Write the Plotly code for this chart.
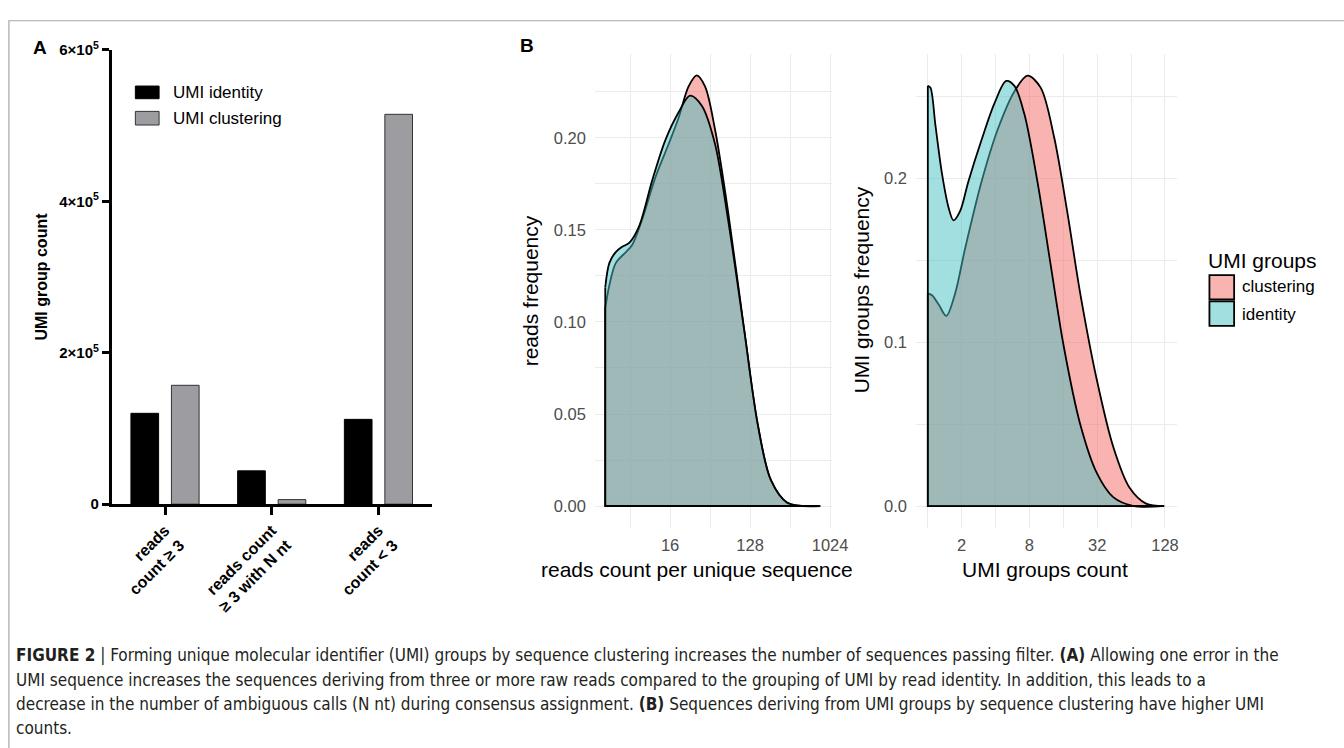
import math
import plotly.graph_objects as go

W, H = 1344, 748

# ---------------- Panel A data ----------------
bar_categories = ["reads<br>count ≥ 3", "reads count<br>≥ 3 with N nt", "reads<br>count < 3"]
umi_identity = [120000, 44000, 112000]
umi_clustering = [157000, 6000, 515000]
a_ytickvals = [0, 200000, 400000, 600000]
a_yticktext = ["0", "2×10<sup>5</sup>", "4×10<sup>5</sup>", "6×10<sup>5</sup>"]

# ---------------- Panel B (left) data: reads count per unique sequence ----------------
reads_count_clustering = [2.97, 3.3, 3.9, 5.08, 6.0, 7.78, 11.0, 15.5, 20, 25.9, 32, 39.7, 51.3, 72, 110, 156, 220, 337, 790]
reads_freq_clustering = [0.1076, 0.1198, 0.132, 0.138, 0.142, 0.156, 0.179, 0.197, 0.211, 0.228, 0.234, 0.228, 0.205, 0.1605, 0.0954, 0.0445, 0.014, 0.0017, 0.0]
reads_count_identity = [2.97, 3.3, 3.9, 4.66, 5.53, 7.15, 10.07, 14.2, 20, 26.9, 36.5, 51.3, 72, 110, 156, 220, 337, 790]
reads_freq_identity = [0.1188, 0.132, 0.138, 0.141, 0.143, 0.152, 0.177, 0.199, 0.214, 0.223, 0.2175, 0.197, 0.156, 0.0954, 0.0445, 0.014, 0.0018, 0.0]

# ---------------- Panel B (right) data: UMI groups count ----------------
umi_count_clustering = [1.0, 1.09, 1.25, 1.46, 1.75, 2.14, 3.0, 4.2, 5.88, 7.7, 10.06, 13.2, 17.3, 22.6, 31.7, 44.4, 62.1, 87, 126]
umi_freq_clustering = [0.1299, 0.1287, 0.123, 0.1161, 0.1299, 0.157, 0.198, 0.2303, 0.2531, 0.2627, 0.2554, 0.2257, 0.180, 0.1299, 0.0773, 0.0363, 0.0112, 0.0015, 0.0]
umi_count_identity = [1.0, 1.055, 1.168, 1.336, 1.528, 1.69, 1.935, 2.29, 3.0, 3.93, 4.97, 5.88, 7.2, 9.42, 12.3, 16.1, 22.6, 31.7, 44.4, 66.5, 122]
umi_freq_identity = [0.2565, 0.2554, 0.2325, 0.2029, 0.1823, 0.1744, 0.180, 0.198, 0.2234, 0.2462, 0.2595, 0.2565, 0.2394, 0.198, 0.148, 0.0979, 0.050, 0.0203, 0.0055, 0.0002, 0.0]

left_major_x = [16, 128, 1024]
left_minor_x = [5.657, 45.25, 362.0]
right_major_x = [2, 8, 32, 128]
right_minor_x = [1, 4, 16, 64]
left_major_y = [0, 0.05, 0.10, 0.15, 0.20]
left_minor_y = [0.025, 0.075, 0.125, 0.175, 0.225]
right_major_y = [0, 0.1, 0.2]
right_minor_y = [0.05, 0.15, 0.25]

group_names = ["clustering", "identity"]

# ---------------- styling ----------------
FONT = "Liberation Sans, Arial, Helvetica, sans-serif"
CAP_FONT = "DejaVu Sans Condensed, Liberation Sans Narrow, sans-serif"
PINK_FILL = "rgba(243,103,97,0.5)"
TEAL_FILL = "rgba(70,192,194,0.5)"
PINK_KEY = "#F9B3B0"
TEAL_KEY = "#A2DFE0"
GRID = "#EBEBEB"
TICKGRAY = "#4D4D4D"


def px(x):
    return x / W


def py(y):
    return 1 - y / H


fig = go.Figure()

# Panel A bars
fig.add_trace(go.Bar(x=bar_categories, y=umi_identity, name="UMI identity",
                     marker=dict(color="black", line=dict(color="black", width=1)),
                     xaxis="x", yaxis="y", showlegend=False))
fig.add_trace(go.Bar(x=bar_categories, y=umi_clustering, name="UMI clustering",
                     marker=dict(color="#9D9CA1", line=dict(color="#333333", width=1)),
                     xaxis="x", yaxis="y", showlegend=False))


def add_density(xs, ys, fill, xa, ya):
    fig.add_trace(go.Scatter(x=xs, y=ys, mode="lines",
                             line=dict(color="black", width=1.8, shape="spline", smoothing=0.9),
                             fill="tozeroy", fillcolor=fill, xaxis=xa, yaxis=ya,
                             showlegend=False, hoverinfo="skip"))
    fig.add_trace(go.Scatter(x=[xs[0], xs[0], xs[-1]], y=[ys[0], 0, 0], mode="lines",
                             line=dict(color="black", width=1.8), xaxis=xa, yaxis=ya,
                             showlegend=False, hoverinfo="skip"))


add_density(reads_count_clustering, reads_freq_clustering, PINK_FILL, "x2", "y2")
add_density(reads_count_identity, reads_freq_identity, TEAL_FILL, "x2", "y2")
add_density(umi_count_clustering, umi_freq_clustering, PINK_FILL, "x3", "y3")
add_density(umi_count_identity, umi_freq_identity, TEAL_FILL, "x3", "y3")

L2 = math.log10(2)

ydom_a = [py(506), py(40)]
ydom_b = [py(530), py(44)]

fig.update_layout(
    width=W, height=H,
    margin=dict(l=0, r=0, t=0, b=0),
    paper_bgcolor="white", plot_bgcolor="white",
    font=dict(family=FONT, color="black"),
    barmode="group", bargap=0.241, bargroupgap=0.317,
    xaxis=dict(domain=[px(113), px(437)], range=[-0.5, 2.5], anchor="y",
               showline=True, linewidth=2.5, linecolor="black",
               ticks="outside", ticklen=8, tickwidth=2.5, tickcolor="black",
               tickangle=-45, showgrid=False, zeroline=False,
               tickfont=dict(family=FONT, size=16, color="black", weight="bold")),
    yaxis=dict(domain=ydom_a, range=[0, 600000], anchor="x",
               showline=True, linewidth=2.5, linecolor="black",
               ticks="outside", ticklen=7, tickwidth=2.5, tickcolor="black",
               tickvals=a_ytickvals, ticktext=a_yticktext, showgrid=False, zeroline=False,
               tickfont=dict(family=FONT, size=15, color="black", weight="bold")),
    xaxis2=dict(domain=[px(602), px(842)], type="log", range=[1.18 * L2, 10.07 * L2], anchor="y2",
                tickvals=left_major_x, ticktext=[str(v) for v in left_major_x],
                showgrid=True, gridcolor=GRID, gridwidth=1.3, zeroline=False, showline=False,
                ticks="", ticklabelstandoff=6,
                minor=dict(tickvals=left_minor_x, showgrid=True, gridcolor=GRID, gridwidth=0.7, ticks=""),
                tickfont=dict(family=FONT, size=16.5, color=TICKGRAY)),
    yaxis2=dict(domain=ydom_b, range=[-0.0117, 0.2457], anchor="x2",
                tickvals=left_major_y, ticktext=["0.00", "0.05", "0.10", "0.15", "0.20"],
                showgrid=True, gridcolor=GRID, gridwidth=1.3, zeroline=False, showline=False,
                ticks="", ticklabelstandoff=8,
                minor=dict(tickvals=left_minor_y, showgrid=True, gridcolor=GRID, gridwidth=0.7, ticks=""),
                tickfont=dict(family=FONT, size=16.5, color=TICKGRAY)),
    xaxis3=dict(domain=[px(927), px(1191)], type="log", range=[-0.35 * L2, 7.35 * L2], anchor="y3",
                tickvals=right_major_x, ticktext=[str(v) for v in right_major_x],
                showgrid=True, gridcolor=GRID, gridwidth=1.3, zeroline=False, showline=False,
                ticks="", ticklabelstandoff=6,
                minor=dict(tickvals=right_minor_x, showgrid=True, gridcolor=GRID, gridwidth=0.7, ticks=""),
                tickfont=dict(family=FONT, size=16.5, color=TICKGRAY)),
    yaxis3=dict(domain=ydom_b, range=[-0.01306, 0.276], anchor="x3",
                tickvals=right_major_y, ticktext=["0.0", "0.1", "0.2"],
                showgrid=True, gridcolor=GRID, gridwidth=1.3, zeroline=False, showline=False,
                ticks="", ticklabelstandoff=8,
                minor=dict(tickvals=right_minor_y, showgrid=True, gridcolor=GRID, gridwidth=0.7, ticks=""),
                tickfont=dict(family=FONT, size=16.5, color=TICKGRAY)),
)

shapes = []
annotations = []

# Frame around the figure (top and left edges visible)
shapes.append(dict(type="rect", xref="paper", yref="paper", x0=px(9), x1=px(1400), y0=py(800), y1=py(10),
                   line=dict(color="#A8A8A8", width=1.2), fillcolor="rgba(0,0,0,0)", layer="below"))

# Panel A legend
shapes.append(dict(type="rect", xref="paper", yref="paper", x0=px(137), x1=px(161), y0=py(90), y1=py(77),
                   fillcolor="black", line=dict(color="black", width=1)))
shapes.append(dict(type="rect", xref="paper", yref="paper", x0=px(137), x1=px(161), y0=py(117), y1=py(103),
                   fillcolor="#9D9CA1", line=dict(color="#333333", width=1)))
annotations.append(dict(text="UMI identity", x=px(173), y=py(84), xref="paper", yref="paper",
                        xanchor="left", yanchor="middle", showarrow=False, font=dict(size=17, color="black")))
annotations.append(dict(text="UMI clustering", x=px(173), y=py(110), xref="paper", yref="paper",
                        xanchor="left", yanchor="middle", showarrow=False, font=dict(size=17, color="black")))

# Panel A y title
annotations.append(dict(text="<b>UMI group count</b>", x=px(42), y=py(273), xref="paper", yref="paper",
                        xanchor="center", yanchor="middle", textangle=-90, showarrow=False,
                        font=dict(size=16, color="black")))

# Panel letters
annotations.append(dict(text="<b>A</b>", x=px(40), y=py(37), xref="paper", yref="paper",
                        xanchor="center", yanchor="middle", showarrow=False, font=dict(size=19, color="black")))
annotations.append(dict(text="<b>B</b>", x=px(533), y=py(35), xref="paper", yref="paper",
                        xanchor="center", yanchor="middle", showarrow=False, font=dict(size=19, color="black")))

# Panel B axis titles
annotations.append(dict(text="reads count per unique sequence", x=px(705), y=py(573), xref="paper", yref="paper",
                        xanchor="center", yanchor="middle", showarrow=False, font=dict(size=21, color="black")))
annotations.append(dict(text="UMI groups count", x=px(1058), y=py(573), xref="paper", yref="paper",
                        xanchor="center", yanchor="middle", showarrow=False, font=dict(size=21, color="black")))
annotations.append(dict(text="reads frequency", x=px(537), y=py(287), xref="paper", yref="paper",
                        xanchor="center", yanchor="middle", textangle=-90, showarrow=False,
                        font=dict(size=21, color="black")))
annotations.append(dict(text="UMI groups frequency", x=px(872), y=py(286), xref="paper", yref="paper",
                        xanchor="center", yanchor="middle", textangle=-90, showarrow=False,
                        font=dict(size=21, color="black")))

# Panel B legend
annotations.append(dict(text="UMI groups", x=px(1221), y=py(256), xref="paper", yref="paper",
                        xanchor="left", yanchor="middle", showarrow=False, font=dict(size=21, color="black")))
shapes.append(dict(type="rect", xref="paper", yref="paper", x0=px(1224), x1=px(1249), y0=py(296), y1=py(271),
                   fillcolor=PINK_KEY, line=dict(color="black", width=1.8)))
shapes.append(dict(type="rect", xref="paper", yref="paper", x0=px(1224), x1=px(1249), y0=py(323), y1=py(298),
                   fillcolor=TEAL_KEY, line=dict(color="black", width=1.8)))
annotations.append(dict(text=group_names[0], x=px(1255), y=py(283), xref="paper", yref="paper",
                        xanchor="left", yanchor="middle", showarrow=False, font=dict(size=17, color="black")))
annotations.append(dict(text=group_names[1], x=px(1255), y=py(311), xref="paper", yref="paper",
                        xanchor="left", yanchor="middle", showarrow=False, font=dict(size=17, color="black")))

# Caption
caption_lines = [
    "<b>FIGURE 2</b> | Forming unique molecular identifier (UMI) groups by sequence clustering increases the number of sequences passing filter. <b>(A)</b> Allowing one error in the",
    "UMI sequence increases the sequences deriving from three or more raw reads compared to the grouping of UMI by read identity. In addition, this leads to a",
    "decrease in the number of ambiguous calls (N nt) during consensus assignment. <b>(B)</b> Sequences deriving from UMI groups by sequence clustering have higher UMI",
    "counts.",
]
for i, line in enumerate(caption_lines):
    annotations.append(dict(text=line, x=px(14), y=py(661 + 25 * i), xref="paper", yref="paper",
                            xanchor="left", yanchor="middle", showarrow=False,
                            font=dict(family=CAP_FONT, size=17, color="#231F20")))

fig.update_layout(shapes=shapes, annotations=annotations)

fig.write_html("out.html", config={"displayModeBar": False},
               post_script="document.body.style.margin='0px';document.body.style.overflow='hidden';")
